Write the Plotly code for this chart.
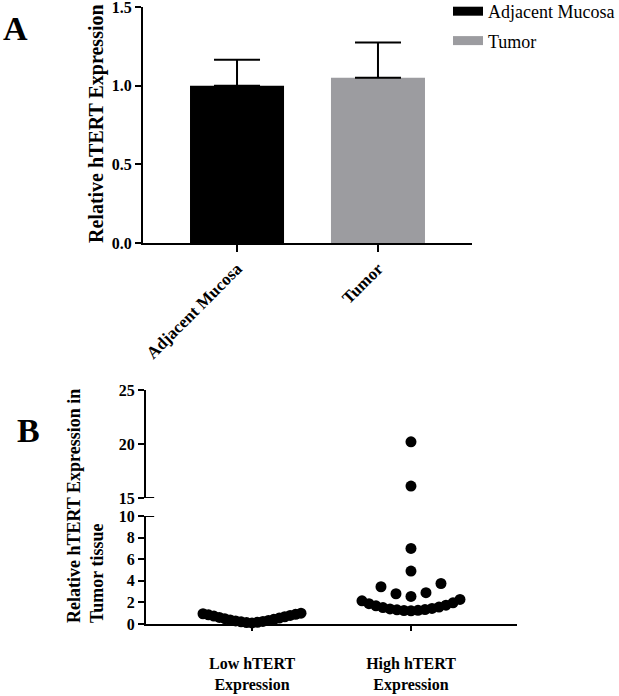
import math
import plotly.graph_objects as go

# ---------------- data ----------------
bar_groups = ["Adjacent Mucosa", "Tumor"]
bar_means = [1.00, 1.05]
bar_err_up = [0.165, 0.225]
bar_colors = ["#000000", "#9c9ca0"]

scatter_cats = ["Low hTERT<br>Expression", "High hTERT<br>Expression"]
low_vals = [0.10, 0.13, 0.16, 0.20, 0.24, 0.28, 0.33, 0.38, 0.43, 0.49,
            0.55, 0.61, 0.67, 0.73, 0.79, 0.85, 0.90, 0.95, 1.00]
high_vals = [1.22, 1.25, 1.27, 1.31, 1.34, 1.40, 1.44, 1.52, 1.57, 1.68,
             1.74, 1.88, 1.96, 2.15, 2.28,
             2.55, 2.80, 2.90, 3.45, 3.75,
             4.90, 7.00, 16.1, 20.2]

# ---------------- geometry helpers ----------------
W, H = 619, 696
def px(x):
    return x / W
def py(y):
    return 1 - y / H

FONT = "Liberation Serif, Times New Roman, serif"

# scatter (dot plot) x-offsets: rows of similar values, spread side by side
X2_RANGE = [-0.667, 1.667]
X2_PIX = 517 - 146
PX_PER_UNIT = X2_PIX / (X2_RANGE[1] - X2_RANGE[0])

def dot_offsets(vals, row_h=1.3, s_max=15.0, half_w=49.0):
    vmin = min(vals)
    rows = {}
    for v in sorted(vals):
        rows.setdefault(int((v - vmin) // row_h), []).append(v)
    xs, ys = [], []
    for r in sorted(rows):
        rv = rows[r]
        n = len(rv)
        steps = math.ceil((n - 1) / 2) if n > 1 else 1
        s = min(s_max, half_w / steps)
        for k, v in enumerate(rv):
            if k == 0:
                o = 0
            elif k % 2 == 1:
                o = -((k + 1) // 2) * s
            else:
                o = (k // 2) * s
            xs.append(o / PX_PER_UNIT)
            ys.append(v)
    return xs, ys

fig = go.Figure()

# ---------------- panel A: bars ----------------
for g, m, e, c in zip(bar_groups, bar_means, bar_err_up, bar_colors):
    fig.add_trace(go.Bar(
        x=[g], y=[m], width=0.667, marker=dict(color=c, line=dict(width=0)),
        error_y=dict(type="data", array=[e], arrayminus=[0], symmetric=False,
                     color="black", thickness=2, width=23),
        showlegend=False, xaxis="x", yaxis="y"))
    # legend entry with a wide flat swatch
    fig.add_trace(go.Scatter(
        x=[None], y=[None], mode="lines", name=g, legendgroup=g,
        line=dict(color=c, width=9), xaxis="x", yaxis="y"))

# ---------------- panel B: dot plot ----------------
lo_x, lo_y = [], []
hi_x, hi_y = [], []
for i, vals in enumerate([low_vals, high_vals]):
    xs, ys = dot_offsets(vals)
    for xo, v in zip(xs, ys):
        if v >= 15:
            hi_x.append(i + xo); hi_y.append(v)
        else:
            lo_x.append(i + xo); lo_y.append(v)

mk = dict(color="black", size=11)
fig.add_trace(go.Scatter(x=lo_x, y=lo_y, mode="markers", marker=mk,
                         cliponaxis=False, showlegend=False,
                         xaxis="x2", yaxis="y2"))
fig.add_trace(go.Scatter(x=hi_x, y=hi_y, mode="markers", marker=mk,
                         cliponaxis=False, showlegend=False,
                         xaxis="x2", yaxis="y3"))

axis_common = dict(showline=True, linecolor="black", linewidth=2,
                   ticks="outside", tickcolor="black", tickwidth=2, ticklen=6,
                   showgrid=False, zeroline=False, automargin=False,
                   ticklabeloverflow="allow",
                   tickfont=dict(family=FONT, size=16, color="black", weight="bold"))

def ann(text, x, y, size, angle=0, **kw):
    d = dict(text=text, x=px(x), y=py(y), xref="paper", yref="paper",
             showarrow=False, textangle=angle, xanchor="center", yanchor="middle",
             font=dict(family=FONT, size=size, color="black", weight="bold"))
    d.update(kw)
    return d

fig.update_layout(
    width=W, height=H,
    margin=dict(l=0, r=0, t=0, b=0, pad=0, autoexpand=False),
    font=dict(family=FONT, color="black"),
    paper_bgcolor="white", plot_bgcolor="white",
    barmode="overlay",
    xaxis=dict(axis_common, domain=[px(143), px(472)], anchor="y",
               range=[-0.667, 1.667], tickangle=-45, ticklen=7,
               tickfont=dict(family=FONT, size=17, color="black", weight="bold"),
               categoryorder="array", categoryarray=bar_groups),
    yaxis=dict(axis_common, domain=[py(243), py(7)], anchor="x",
               range=[0, 1.5], tickvals=[0, 0.5, 1.0, 1.5], tickformat=".1f"),
    xaxis2=dict(axis_common, domain=[px(146), px(517)], anchor="y2",
                range=X2_RANGE, tickvals=[0, 1], ticktext=scatter_cats,
                ticklen=5, ticklabelstandoff=19),
    yaxis2=dict(axis_common, domain=[py(624), py(516)], anchor="x2",
                range=[0, 10], tickvals=[0, 2, 4, 6, 8, 10]),
    yaxis3=dict(axis_common, domain=[py(498), py(390)], anchor="x2",
                range=[15, 25], tickvals=[15, 20, 25]),
    legend=dict(x=px(448), y=py(-7), xanchor="left", yanchor="top",
                font=dict(family=FONT, size=18, color="black"),
                itemwidth=30, bgcolor="rgba(0,0,0,0)", tracegroupgap=3),
    shapes=[
        dict(type="line", xref="x2 domain", yref="y3", x0=0, x1=0.022,
             y0=15, y1=15, line=dict(color="black", width=2)),
        dict(type="line", xref="x2 domain", yref="y2", x0=0, x1=0.022,
             y0=10, y1=10, line=dict(color="black", width=2)),
    ],
    annotations=[
        ann("A", 15, 29, 34),
        ann("B", 28.5, 430, 34),
        ann("Relative hTERT Expression", 97, 124, 20, angle=-90),
        ann("Relative hTERT Expression in<br>Tumor tissue", 85, 625, 18,
            angle=-90, yanchor="bottom", align="left"),
    ],
)

fig.write_html("out.html", config={"displayModeBar": False},
               post_script="document.body.style.margin='0';")
